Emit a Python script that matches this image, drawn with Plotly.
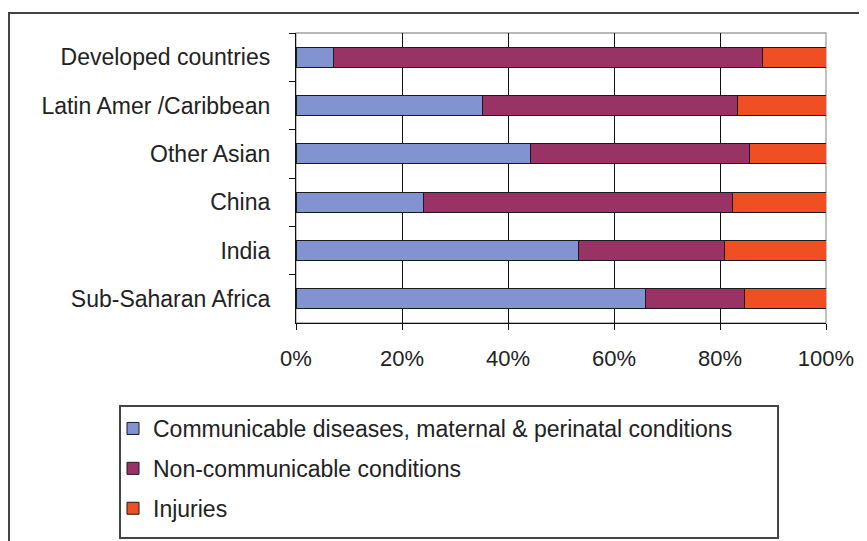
import plotly.graph_objects as go

# Regions, top to bottom as in the chart
regions = [
    "Developed countries",
    "Latin Amer /Caribbean",
    "Other Asian",
    "China",
    "India",
    "Sub-Saharan Africa",
]

# Share of burden (%) per cause group
communicable = [7.0, 35.2, 44.3, 24.0, 53.3, 66.0]
non_communicable = [81.0, 48.1, 41.2, 58.3, 27.5, 18.7]
injuries = [12.0, 16.7, 14.5, 17.7, 19.2, 15.3]

series_names = [
    "Communicable diseases, maternal & perinatal conditions",
    "Non-communicable conditions",
    "Injuries",
]
colors = ["#8193D0", "#993366", "#F04E23"]

W, H = 867, 541
OFF = 8  # page body margin
# wanted plot area on the page: x 296..826, y 33..323
L, T = 296 - OFF, 33 - OFF
pw, ph = 530, 290
R, B = W - L - pw, H - T - ph


def px_x(x):
    return (x - OFF - L) / pw


def px_y(y):
    return (T + ph - (y - OFF)) / ph


font = "Liberation Sans, Arial, sans-serif"

fig = go.Figure()
for name, vals, col in zip(series_names, [communicable, non_communicable, injuries], colors):
    fig.add_trace(
        go.Bar(
            y=regions,
            x=vals,
            name=name,
            orientation="h",
            legendgroup=name,
            marker=dict(color=col, line=dict(color="#1a1a1a", width=1)),
        )
    )

fig.update_layout(
    width=W,
    height=H,
    barmode="stack",
    bargap=0.58,
    margin=dict(l=L, r=R, t=T, b=B, pad=0),
    paper_bgcolor="white",
    plot_bgcolor="white",
    font=dict(family=font, size=23, color="#222"),
    showlegend=True,
    legend=dict(
        x=px_x(113),
        y=px_y(407),
        xanchor="left",
        yanchor="top",
        bgcolor="rgba(0,0,0,0)",
        borderwidth=0,
        tracegroupgap=7,
        font=dict(size=23, color="#222"),
        traceorder="grouped",
    ),
    xaxis=dict(
        range=[0, 100],
        dtick=20,
        ticksuffix="%",
        showgrid=True,
        gridcolor="#111",
        gridwidth=1.3,
        zeroline=False,
        showline=True,
        linecolor="#111",
        linewidth=1.3,
        ticks="outside",
        ticklen=6,
        tickcolor="#111",
        tickwidth=1.3,
        ticklabelstandoff=9,
        tickfont=dict(size=22, color="#222"),
    ),
    yaxis=dict(
        autorange="reversed",
        showline=True,
        linecolor="#111",
        linewidth=1.3,
        ticks="outside",
        tickson="boundaries",
        ticklen=6,
        tickcolor="#111",
        tickwidth=1.3,
        ticklabelstandoff=20,
        showgrid=False,
        tickfont=dict(size=23, color="#222"),
    ),
    shapes=[
        # grey frame of plot area (top/right)
        dict(type="rect", xref="paper", yref="paper", x0=0, x1=1, y0=0, y1=1,
             line=dict(color="#a0a0a0", width=1.3), layer="below"),
        # outer figure frame
        dict(type="rect", xref="paper", yref="paper", x0=px_x(9), x1=px_x(900),
             y0=px_y(600), y1=px_y(13), line=dict(color="#444", width=2)),
        # legend box
        dict(type="rect", xref="paper", yref="paper", x0=px_x(120), x1=px_x(778),
             y0=px_y(538), y1=px_y(406), line=dict(color="#444", width=2)),
    ],
)

fig.write_html("out.html")
